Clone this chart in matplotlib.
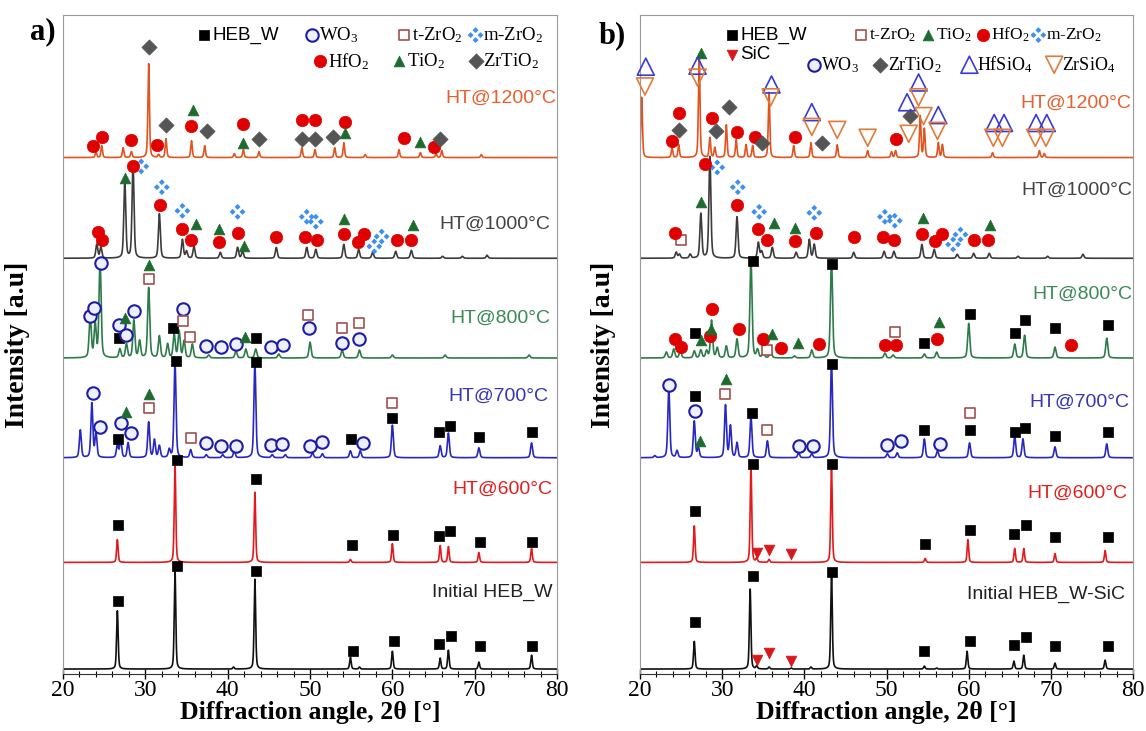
import numpy as np
import matplotlib
matplotlib.use("Agg")
import matplotlib.pyplot as plt
from matplotlib.path import Path

plt.rcParams["mathtext.fontset"] = "custom"
plt.rcParams["mathtext.rm"] = "Liberation Serif"
plt.rcParams["mathtext.it"] = "Liberation Serif:italic"
plt.rcParams["mathtext.bf"] = "Liberation Serif:bold"

# ---------------- data: peaks (2theta, height) and phase marks (phase, 2theta, height) ----------------
# heights are above each pattern's own baseline (1 unit ~ spacing between patterns)
OFFSETS = [0.0, 1.08, 2.14, 3.15, 4.16, 5.18]   # Initial, 600, 700, 800, 1000, 1200

# panel a) HEB_W
a_init_peaks = [(26.6, 0.59), (33.6, 1.00), (40.7, 0.02), (43.3, 0.91), (54.9, 0.12), (56.0, 0.02),
                (60.0, 0.18), (65.8, 0.11), (66.8, 0.19), (70.5, 0.07), (76.9, 0.14)]
a_init_marks = [("HEB", 26.7, 0.69), ("HEB", 33.8, 1.04), ("HEB", 43.4, 0.99), ("HEB", 55.2, 0.18),
                ("HEB", 60.2, 0.28), ("HEB", 65.6, 0.25), ("HEB", 67.1, 0.33), ("HEB", 70.6, 0.23),
                ("HEB", 77.0, 0.23)]

a_600_peaks = [(26.6, 0.23), (33.6, 1.00), (43.3, 0.71), (54.9, 0.03), (60.0, 0.19), (65.8, 0.17),
               (66.8, 0.16), (70.5, 0.10), (76.9, 0.14)]
a_600_marks = [("HEB", 26.7, 0.38), ("HEB", 33.8, 1.04), ("HEB", 43.4, 0.84), ("HEB", 55.1, 0.18),
               ("HEB", 60.1, 0.28), ("HEB", 65.6, 0.27), ("HEB", 67.0, 0.32), ("HEB", 70.6, 0.21),
               ("HEB", 77.0, 0.21)]

a_700_peaks = [(22.1, 0.28), (23.5, 0.55), (24.0, 0.25), (26.6, 0.13), (27.0, 0.18), (27.9, 0.15),
               (30.4, 0.36), (31.1, 0.18), (31.7, 0.12), (32.9, 0.08), (33.6, 0.97), (35.5, 0.08),
               (37.4, 0.03), (39.4, 0.03), (40.8, 0.07), (43.3, 0.96), (45.4, 0.03), (47.0, 0.03),
               (50.3, 0.05), (51.5, 0.04), (54.9, 0.07), (56.1, 0.07), (60.0, 0.33), (65.8, 0.12),
               (66.8, 0.25), (70.5, 0.10), (76.9, 0.15)]
a_700_marks = [("WO3", 23.7, 0.66), ("WO3", 24.5, 0.31), ("WO3", 27.0, 0.35), ("WO3", 28.2, 0.25),
               ("WO3", 37.4, 0.15), ("WO3", 39.2, 0.12), ("WO3", 41.0, 0.12), ("WO3", 45.2, 0.13),
               ("WO3", 46.6, 0.14), ("WO3", 50.0, 0.12), ("WO3", 51.5, 0.16), ("WO3", 56.4, 0.15),
               ("TiO2", 27.6, 0.46), ("TiO2", 30.5, 0.65),
               ("tZrO2", 30.4, 0.50), ("tZrO2", 35.5, 0.20), ("tZrO2", 60.0, 0.55),
               ("HEB", 26.7, 0.19), ("HEB", 33.7, 0.98), ("HEB", 43.4, 0.97), ("HEB", 55.0, 0.19),
               ("HEB", 60.0, 0.40), ("HEB", 65.6, 0.26), ("HEB", 67.0, 0.32), ("HEB", 70.5, 0.21),
               ("HEB", 76.9, 0.26)]

a_800_peaks = [(23.3, 0.43), (23.9, 0.34), (24.5, 0.98), (26.9, 0.09), (27.7, 0.14), (28.6, 0.38),
               (29.3, 0.17), (30.4, 0.71), (31.7, 0.22), (32.7, 0.14), (33.5, 0.24), (34.1, 0.27),
               (34.7, 0.17), (35.7, 0.14), (37.7, 0.03), (41.0, 0.07), (42.2, 0.09), (43.4, 0.09),
               (46.2, 0.04), (50.0, 0.16), (53.9, 0.08), (56.0, 0.08), (60.0, 0.03), (66.4, 0.03),
               (76.6, 0.03)]
a_800_marks = [("WO3", 24.6, 0.96), ("WO3", 23.3, 0.43), ("WO3", 23.8, 0.51), ("WO3", 26.8, 0.33),
               ("WO3", 27.7, 0.23), ("WO3", 28.6, 0.48), ("WO3", 34.6, 0.50), ("WO3", 37.4, 0.12),
               ("WO3", 39.2, 0.11), ("WO3", 41.0, 0.14), ("WO3", 45.2, 0.11), ("WO3", 46.7, 0.13),
               ("WO3", 49.9, 0.30), ("WO3", 53.9, 0.15), ("WO3", 56.0, 0.19),
               ("TiO2", 27.5, 0.41), ("TiO2", 30.4, 0.94), ("TiO2", 42.1, 0.21),
               ("tZrO2", 30.4, 0.80), ("tZrO2", 34.6, 0.37), ("tZrO2", 35.4, 0.21), ("tZrO2", 49.8, 0.44),
               ("tZrO2", 53.9, 0.30), ("tZrO2", 56.0, 0.35),
               ("HEB", 26.8, 0.20), ("HEB", 33.4, 0.30), ("HEB", 43.4, 0.20)]

a_1000_peaks = [(24.1, 0.14), (24.6, 0.11), (27.5, 0.78), (28.5, 0.95), (31.7, 0.45), (34.5, 0.19),
                (35.0, 0.07), (35.9, 0.12), (39.1, 0.06), (41.2, 0.11), (41.8, 0.07), (45.9, 0.11),
                (49.6, 0.11), (50.7, 0.09), (54.1, 0.14), (55.9, 0.09), (57.6, 0.06), (60.4, 0.07),
                (62.3, 0.08), (66.1, 0.02), (68.5, 0.02), (71.5, 0.03)]
a_1000_marks = [("HfO2", 24.2, 0.27), ("HfO2", 24.7, 0.19), ("HfO2", 28.5, 0.93), ("HfO2", 31.8, 0.54),
                ("HfO2", 34.4, 0.30), ("HfO2", 35.5, 0.19), ("HfO2", 38.9, 0.16), ("HfO2", 41.3, 0.26),
                ("HfO2", 45.9, 0.22), ("HfO2", 49.4, 0.22), ("HfO2", 50.8, 0.19), ("HfO2", 54.1, 0.25),
                ("HfO2", 55.8, 0.16), ("HfO2", 56.6, 0.25), ("HfO2", 60.5, 0.18), ("HfO2", 62.2, 0.19),
                ("TiO2", 27.5, 0.81), ("TiO2", 36.1, 0.35), ("TiO2", 39.0, 0.30), ("TiO2", 42.0, 0.12),
                ("TiO2", 54.1, 0.40), ("TiO2", 62.5, 0.34),
                ("mZrO2", 29.5, 0.93), ("mZrO2", 32.0, 0.72), ("mZrO2", 34.5, 0.48), ("mZrO2", 41.2, 0.47),
                ("mZrO2", 49.6, 0.42), ("mZrO2", 50.7, 0.37), ("mZrO2", 57.8, 0.12), ("mZrO2", 58.7, 0.22)]

a_1200_peaks = [(24.0, 0.06), (24.7, 0.12), (27.3, 0.10), (28.3, 0.06), (30.4, 0.95), (31.6, 0.03),
                (32.5, 0.19), (35.6, 0.17), (37.2, 0.12), (40.8, 0.04), (41.9, 0.08), (43.8, 0.06),
                (49.0, 0.10), (50.6, 0.08), (53.0, 0.10), (54.1, 0.15), (56.7, 0.03), (60.8, 0.08),
                (63.4, 0.05), (65.3, 0.04), (66.0, 0.07), (70.8, 0.03)]
a_1200_marks = [("HfO2", 23.7, 0.12), ("HfO2", 24.7, 0.21), ("HfO2", 28.3, 0.18), ("HfO2", 31.4, 0.13),
                ("HfO2", 35.6, 0.32), ("HfO2", 41.9, 0.34), ("HfO2", 49.0, 0.38), ("HfO2", 50.6, 0.38),
                ("HfO2", 54.2, 0.36), ("HfO2", 61.4, 0.20), ("HfO2", 65.0, 0.11),
                ("ZrTiO2", 30.4, 1.12), ("ZrTiO2", 32.5, 0.33), ("ZrTiO2", 37.5, 0.27), ("ZrTiO2", 43.8, 0.19),
                ("ZrTiO2", 49.0, 0.19), ("ZrTiO2", 50.6, 0.19), ("ZrTiO2", 52.8, 0.21), ("ZrTiO2", 65.8, 0.19),
                ("TiO2", 35.8, 0.48), ("TiO2", 41.9, 0.15), ("TiO2", 54.2, 0.25), ("TiO2", 63.3, 0.16)]

# panel b) HEB_W-SiC
b_init_peaks = [(26.6, 0.28), (33.4, 0.81), (34.2, 0.03), (35.7, 0.02), (38.4, 0.01), (40.8, 0.02),
                (43.3, 1.00), (54.6, 0.03), (56.1, 0.01), (59.8, 0.18), (65.5, 0.08), (66.7, 0.14),
                (70.5, 0.06), (76.6, 0.09)]
b_init_marks = [("HEB", 26.7, 0.48), ("HEB", 33.7, 0.94), ("HEB", 43.4, 0.98), ("HEB", 54.6, 0.18),
                ("HEB", 60.2, 0.28), ("HEB", 65.5, 0.24), ("HEB", 67.0, 0.32), ("HEB", 70.5, 0.23),
                ("HEB", 76.9, 0.23),
                ("SiC", 34.2, 0.09), ("SiC", 35.7, 0.16), ("SiC", 38.4, 0.08)]

b_600_peaks = [(26.6, 0.37), (33.5, 0.98), (34.2, 0.04), (35.7, 0.03), (43.3, 0.98), (54.7, 0.04),
               (59.9, 0.23), (65.6, 0.14), (66.7, 0.14), (70.5, 0.09), (76.6, 0.12)]
b_600_marks = [("HEB", 26.7, 0.52), ("HEB", 33.7, 1.00), ("HEB", 43.4, 1.00), ("HEB", 54.7, 0.19),
               ("HEB", 60.2, 0.33), ("HEB", 65.5, 0.29), ("HEB", 67.0, 0.38), ("HEB", 70.5, 0.26),
               ("HEB", 76.9, 0.26),
               ("SiC", 34.2, 0.10), ("SiC", 35.7, 0.13), ("SiC", 38.4, 0.09)]

b_700_peaks = [(21.8, 0.02), (23.5, 0.71), (24.5, 0.07), (26.6, 0.37), (27.1, 0.10), (30.4, 0.53),
               (31.0, 0.32), (31.8, 0.15), (33.5, 0.42), (35.5, 0.17), (39.3, 0.05), (40.9, 0.04),
               (43.3, 0.98), (50.1, 0.04), (51.3, 0.05), (54.6, 0.19), (56.2, 0.07), (60.1, 0.15),
               (65.6, 0.22), (66.6, 0.19), (70.5, 0.11), (76.8, 0.14)]
b_700_marks = [("WO3", 23.5, 0.74), ("WO3", 26.7, 0.47), ("WO3", 39.3, 0.12), ("WO3", 41.1, 0.12),
               ("WO3", 50.1, 0.13), ("WO3", 51.7, 0.17), ("WO3", 56.5, 0.14),
               ("HEB", 26.7, 0.63), ("HEB", 33.6, 0.45), ("HEB", 43.4, 0.95), ("HEB", 54.6, 0.28),
               ("HEB", 60.2, 0.28), ("HEB", 65.6, 0.26), ("HEB", 66.9, 0.30), ("HEB", 70.5, 0.22),
               ("HEB", 76.9, 0.26),
               ("TiO2", 27.3, 0.17), ("TiO2", 30.5, 0.80),
               ("tZrO2", 30.4, 0.65), ("tZrO2", 35.5, 0.28), ("tZrO2", 60.2, 0.45)]

b_800_peaks = [(23.2, 0.06), (24.1, 0.09), (24.9, 0.07), (26.6, 0.07), (27.4, 0.08), (28.1, 0.07),
               (28.7, 0.38), (29.4, 0.10), (30.5, 0.12), (31.8, 0.19), (33.5, 1.00), (34.3, 0.08),
               (35.0, 0.06), (35.9, 0.08), (38.8, 0.02), (40.9, 0.08), (43.3, 1.00), (49.8, 0.05),
               (50.8, 0.03), (54.6, 0.04), (56.1, 0.06), (60.0, 0.35), (65.6, 0.14), (66.8, 0.23),
               (70.5, 0.11), (76.8, 0.20)]
b_800_marks = [("HfO2", 24.2, 0.19), ("HfO2", 25.0, 0.11), ("HfO2", 28.8, 0.50), ("HfO2", 28.5, 0.22),
               ("HfO2", 32.0, 0.29), ("HfO2", 35.0, 0.19), ("HfO2", 37.1, 0.10), ("HfO2", 41.8, 0.14),
               ("HfO2", 49.8, 0.13), ("HfO2", 51.1, 0.13), ("HfO2", 56.2, 0.19), ("HfO2", 72.5, 0.13),
               ("HEB", 26.7, 0.25), ("HEB", 33.7, 0.98), ("HEB", 43.4, 0.95), ("HEB", 54.6, 0.15),
               ("HEB", 60.2, 0.45), ("HEB", 65.6, 0.25), ("HEB", 66.9, 0.38), ("HEB", 70.5, 0.30),
               ("HEB", 76.9, 0.33),
               ("TiO2", 27.4, 0.18), ("TiO2", 28.6, 0.29), ("TiO2", 36.1, 0.24), ("TiO2", 39.2, 0.15),
               ("TiO2", 56.4, 0.36),
               ("tZrO2", 35.4, 0.08), ("tZrO2", 51.0, 0.26)]

b_1000_peaks = [(24.4, 0.06), (24.8, 0.04), (26.1, 0.04), (27.4, 0.45), (28.5, 1.03), (31.8, 0.42),
                (34.4, 0.16), (34.8, 0.07), (36.1, 0.11), (39.0, 0.06), (40.6, 0.19), (41.2, 0.14),
                (46.0, 0.06), (49.7, 0.07), (50.9, 0.07), (54.3, 0.14), (55.8, 0.09), (58.6, 0.04),
                (60.6, 0.05), (62.5, 0.05), (66.0, 0.02), (69.6, 0.02), (73.9, 0.04)]
b_1000_marks = [("HfO2", 24.2, 0.26), ("HfO2", 27.9, 0.95), ("HfO2", 31.8, 0.54), ("HfO2", 34.3, 0.30),
                ("HfO2", 35.5, 0.19), ("HfO2", 38.9, 0.17), ("HfO2", 41.4, 0.26), ("HfO2", 46.0, 0.22),
                ("HfO2", 49.6, 0.22), ("HfO2", 50.9, 0.19), ("HfO2", 54.3, 0.25), ("HfO2", 55.9, 0.17),
                ("HfO2", 56.8, 0.25), ("HfO2", 60.6, 0.18), ("HfO2", 62.4, 0.19),
                ("tZrO2", 25.0, 0.18),
                ("TiO2", 27.4, 0.57), ("TiO2", 36.3, 0.36), ("TiO2", 38.9, 0.31), ("TiO2", 54.4, 0.41),
                ("TiO2", 62.6, 0.34),
                ("mZrO2", 29.4, 0.92), ("mZrO2", 31.9, 0.72), ("mZrO2", 34.5, 0.47), ("mZrO2", 41.2, 0.46),
                ("mZrO2", 49.8, 0.42), ("mZrO2", 51.0, 0.38), ("mZrO2", 58.1, 0.14), ("mZrO2", 59.0, 0.24)]

b_1200_peaks = [(20.2, 0.61), (23.9, 0.10), (24.7, 0.13), (27.2, 1.05), (28.5, 0.20), (29.1, 0.10),
                (30.5, 0.33), (31.7, 0.18), (32.9, 0.13), (33.7, 0.12), (35.7, 0.66), (38.7, 0.12),
                (40.8, 0.15), (44.0, 0.13), (47.7, 0.07), (50.6, 0.06), (51.1, 0.07), (54.1, 0.42),
                (54.6, 0.29), (56.3, 0.15), (56.8, 0.13), (62.9, 0.05), (68.6, 0.07), (69.2, 0.04)]
b_1200_marks = [("HfSiO4", 20.7, 0.92), ("HfSiO4", 27.0, 0.93), ("HfSiO4", 36.0, 0.74), ("HfSiO4", 40.9, 0.46),
                ("HfSiO4", 52.5, 0.56), ("HfSiO4", 53.9, 0.76), ("HfSiO4", 56.3, 0.43), ("HfSiO4", 63.1, 0.35),
                ("HfSiO4", 64.3, 0.35), ("HfSiO4", 68.2, 0.35), ("HfSiO4", 69.5, 0.35),
                ("ZrSiO4", 20.6, 0.72), ("ZrSiO4", 27.0, 0.81), ("ZrSiO4", 35.9, 0.61), ("ZrSiO4", 40.9, 0.31),
                ("ZrSiO4", 44.0, 0.28), ("ZrSiO4", 47.7, 0.20), ("ZrSiO4", 52.7, 0.24), ("ZrSiO4", 53.9, 0.61),
                ("ZrSiO4", 54.5, 0.42), ("ZrSiO4", 56.2, 0.27), ("ZrSiO4", 63.0, 0.20), ("ZrSiO4", 64.1, 0.20),
                ("ZrSiO4", 68.1, 0.20), ("ZrSiO4", 69.4, 0.20),
                ("HfO2", 23.9, 0.17), ("HfO2", 24.8, 0.45), ("HfO2", 28.8, 0.40), ("HfO2", 31.8, 0.26),
                ("HfO2", 34.0, 0.21), ("HfO2", 38.9, 0.21), ("HfO2", 51.1, 0.19),
                ("ZrTiO2", 24.8, 0.28), ("ZrTiO2", 29.2, 0.27), ("ZrTiO2", 30.8, 0.51), ("ZrTiO2", 34.8, 0.15),
                ("ZrTiO2", 42.2, 0.15), ("ZrTiO2", 52.8, 0.42),
                ("TiO2", 27.4, 1.06)]

a_labels = ["Initial HEB_W", "HT@600°C", "HT@700°C", "HT@800°C", "HT@1000°C", "HT@1200°C"]
b_labels = ["Initial HEB_W-SiC", "HT@600°C", "HT@700°C", "HT@800°C", "HT@1000°C", "HT@1200°C"]

# ---------------- styles ----------------
line_colors = ["#111111", "#e3191c", "#2727c4", "#2e7b4a", "#3c3c3c", "#e2531f"]
label_colors = ["#222222", "#e02020", "#3535b5", "#3a8a55", "#444444", "#e8602e"]
widths = [0.22, 0.22, 0.28, 0.30, 0.28, 0.22]
a_label_pos = [(79.4, 0.78), (79.4, 0.74), (79.0, 0.62), (79.2, 0.40), (79.2, 0.34), (79.9, 0.60)]
b_label_pos = [(79.0, 0.76), (79.3, 0.70), (79.5, 0.56), (79.9, 0.65), (79.9, 0.69), (79.8, 0.55)]

# four small diamonds for m-ZrO2
verts, codes = [], []
for cx, cy in [(0, 0.5), (0.5, 0), (0, -0.5), (-0.5, 0)]:
    r = 0.3
    verts += [(cx, cy + r), (cx + r, cy), (cx, cy - r), (cx - r, cy), (cx, cy + r)]
    codes += [Path.MOVETO, Path.LINETO, Path.LINETO, Path.LINETO, Path.CLOSEPOLY]
quad = Path(verts, codes)

STYLE = {
    "HEB": dict(marker="s", s=50, facecolors="black", edgecolors="black", linewidths=0.5),
    "WO3": dict(marker="o", s=80, facecolors="#eef0ff", edgecolors="#1c1ca8", linewidths=1.5),
    "tZrO2": dict(marker="s", s=55, facecolors="white", edgecolors="#a0524f", linewidths=1.2),
    "mZrO2": dict(marker=quad, s=130, facecolors="#3d8ff0", edgecolors="none"),
    "HfO2": dict(marker="o", s=80, facecolors="#e00000", edgecolors="#e00000", linewidths=0.5),
    "TiO2": dict(marker="^", s=60, facecolors="#1d6b2f", edgecolors="#1d6b2f", linewidths=0.5),
    "ZrTiO2": dict(marker="D", s=60, facecolors="#555555", edgecolors="#555555", linewidths=0.5),
    "HfSiO4": dict(marker="^", s=150, facecolors="none", edgecolors="#3a3ad6", linewidths=1.2),
    "ZrSiO4": dict(marker="v", s=150, facecolors="none", edgecolors="#e07b3a", linewidths=1.2),
    "SiC": dict(marker="v", s=60, facecolors="#d7191c", edgecolors="#d7191c", linewidths=0.5),
}

x = np.linspace(20, 80, 3001)


def pattern(peaks, w):
    y = np.zeros_like(x)
    for p, h in peaks:
        d = (x - p) / (w / 2)
        y += h * (0.6 * np.exp(-np.log(2) * d ** 2) + 0.4 / (1 + d ** 2))
    return y


def draw_panel(ax, peaks_list, marks_list, labels, label_pos):
    for i in range(6):
        base = OFFSETS[i]
        ax.plot(x, base + pattern(peaks_list[i], widths[i]), color=line_colors[i], lw=1.2, zorder=2)
    for i in range(6):
        base = OFFSETS[i]
        for ph in STYLE:
            pts = [(m[1], base + m[2]) for m in marks_list[i] if m[0] == ph]
            if pts:
                xs, ys = zip(*pts)
                ax.scatter(xs, ys, zorder=4, clip_on=False, **STYLE[ph])
        lx, ly = label_pos[i]
        ax.text(lx, base + ly, labels[i], color=label_colors[i], fontsize=14,
                family="Liberation Sans", ha="right", va="center", zorder=5)
    ax.set_xlim(20, 80)
    ax.set_ylim(-0.05, 6.62)
    ax.set_yticks([])
    ax.set_xticks(range(20, 81, 10))
    ax.set_xticks(range(20, 81, 2), minor=True)
    ax.tick_params(axis="x", which="major", direction="inout", length=7, width=1, labelsize=17, pad=1)
    ax.tick_params(axis="x", which="minor", direction="inout", length=4, width=0.8)
    for lab in ax.get_xticklabels():
        lab.set_family("Liberation Serif")
    for s in ax.spines.values():
        s.set_color("#9a9a9a")
    ax.spines["bottom"].set_color("#333333")
    ax.set_xlabel("Diffraction angle, 2θ [°]", fontsize=18.5, family="Liberation Serif",
                  fontweight="bold", labelpad=0)


def legend_item(ax, ph, xf, yf, text, serif=True, size=13.5):
    ax.scatter([xf], [yf], transform=ax.transAxes, clip_on=False, zorder=6, **STYLE[ph])
    ax.text(xf + 0.016, yf, text, transform=ax.transAxes, fontsize=size,
            family="Liberation Serif" if serif else "Liberation Sans", ha="left", va="center")


fig = plt.figure(figsize=(11.46, 7.31), dpi=100)
ax_a = fig.add_axes([0.0550, 0.0780, 0.4311, 0.901])
ax_b = fig.add_axes([0.5585, 0.0780, 0.4302, 0.901])

draw_panel(ax_a, [a_init_peaks, a_600_peaks, a_700_peaks, a_800_peaks, a_1000_peaks, a_1200_peaks],
           [a_init_marks, a_600_marks, a_700_marks, a_800_marks, a_1000_marks, a_1200_marks],
           a_labels, a_label_pos)
draw_panel(ax_b, [b_init_peaks, b_600_peaks, b_700_peaks, b_800_peaks, b_1000_peaks, b_1200_peaks],
           [b_init_marks, b_600_marks, b_700_marks, b_800_marks, b_1000_marks, b_1200_marks],
           b_labels, b_label_pos)

# legend panel a
legend_item(ax_a, "HEB", 0.286, 0.970, "HEB_W", serif=False)
legend_item(ax_a, "WO3", 0.503, 0.970, "WO$_3$")
legend_item(ax_a, "tZrO2", 0.690, 0.970, "t-ZrO$_2$")
legend_item(ax_a, "mZrO2", 0.835, 0.970, "m-ZrO$_2$")
legend_item(ax_a, "HfO2", 0.520, 0.930, "HfO$_2$")
legend_item(ax_a, "TiO2", 0.680, 0.930, "TiO$_2$")
legend_item(ax_a, "ZrTiO2", 0.835, 0.930, "ZrTiO$_2$")

# legend panel b
legend_item(ax_b, "HEB", 0.187, 0.970, "HEB_W", serif=False)
legend_item(ax_b, "SiC", 0.187, 0.940, "SiC", serif=False)
legend_item(ax_b, "tZrO2", 0.448, 0.970, "t-ZrO$_2$", size=12.5)
legend_item(ax_b, "TiO2", 0.584, 0.970, "TiO$_2$", size=12.5)
legend_item(ax_b, "HfO2", 0.696, 0.970, "HfO$_2$", size=12.5)
legend_item(ax_b, "mZrO2", 0.808, 0.970, "m-ZrO$_2$", size=12.5)
legend_item(ax_b, "WO3", 0.352, 0.925, "WO$_3$", size=13)
legend_item(ax_b, "ZrTiO2", 0.487, 0.925, "ZrTiO$_2$", size=13)
legend_item(ax_b, "HfSiO4", 0.668, 0.925, "HfSiO$_4$", size=13)
legend_item(ax_b, "ZrSiO4", 0.840, 0.925, "ZrSiO$_4$", size=13)

for xf in (18 / 1146, 603 / 1146):
    fig.text(xf, 1 - 345 / 731, "Intensity [a.u]", rotation=90, ha="center", va="center",
             fontsize=20, family="Liberation Serif", fontweight="bold")
fig.text(43 / 1146, 1 - 32 / 731, "a)", ha="center", va="center", fontsize=22,
         family="Liberation Serif", fontweight="bold")
fig.text(612 / 1146, 1 - 36 / 731, "b)", ha="center", va="center", fontsize=22,
         family="Liberation Serif", fontweight="bold")

fig.savefig("out.png", dpi=100)
